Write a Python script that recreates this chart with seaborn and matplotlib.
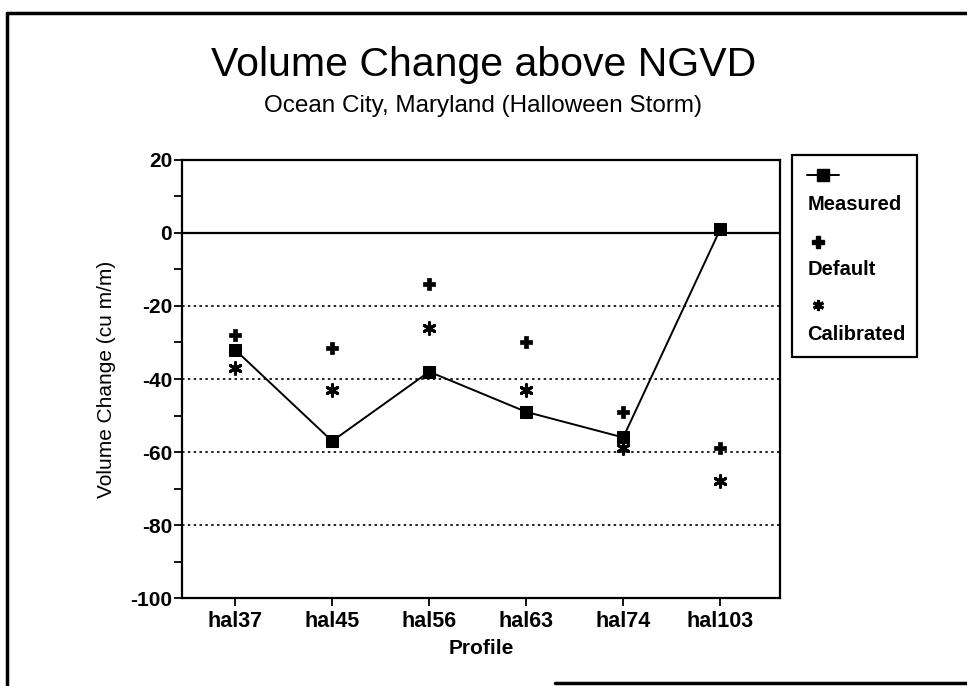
import matplotlib
matplotlib.use("Agg")
import matplotlib.pyplot as plt
from matplotlib.lines import Line2D
from matplotlib.patches import Rectangle
import seaborn as sns
import pandas as pd

# -------------------------------
# Data
# -------------------------------
profiles = ["hal37", "hal45", "hal56", "hal63", "hal74", "hal103"]
measured = [-32, -57, -38, -49, -56, 1]
default = [-28, -31.5, -14, -30, -49, -59]
calibrated = [-37, -43, -26, -43, -59, -68]
grid_levels = [-20, -40, -60, -80]

df = pd.DataFrame({"Profile": profiles,
                   "Measured": measured,
                   "Default": default,
                   "Calibrated": calibrated})

sns.set_theme(style="white")
plt.rcParams["font.family"] = ["Liberation Sans", "DejaVu Sans"]
plt.rcParams["axes.unicode_minus"] = False
plt.rcParams["text.color"] = "black"
plt.rcParams["axes.labelcolor"] = "black"
plt.rcParams["xtick.color"] = "black"
plt.rcParams["ytick.color"] = "black"

fig = plt.figure(figsize=(9.67, 6.86), dpi=100)
ax = fig.add_axes([0.188, 0.128, 0.619, 0.639])

# reference lines
for g in grid_levels:
    ax.axhline(g, color="black", lw=1.2, ls=(0, (1.5, 2)), zorder=1)
ax.axhline(0, color="black", lw=1.6, zorder=1)

# series
sns.lineplot(data=df, x="Profile", y="Measured", ax=ax, color="black",
             lw=1.4, marker="s", markersize=9, markeredgecolor="black",
             sort=False, zorder=3)
sns.scatterplot(data=df, x="Profile", y="Default", ax=ax, color="black",
                marker="P", s=75, edgecolor="black", linewidth=0.5, zorder=3)
sns.scatterplot(data=df, x="Profile", y="Calibrated", ax=ax, color="black",
                marker=(6, 2, 0), s=70, edgecolor="black", linewidth=2.2,
                zorder=3)

ax.set_xlim(-0.55, 5.62)
ax.set_ylim(-100, 20)
ax.set_yticks(range(-100, 21, 20))
ax.set_yticks(range(-90, 20, 20), minor=True)
ax.tick_params(axis="y", which="both", direction="out", length=6, width=1.3,
               labelsize=15, pad=1, left=True)
ax.tick_params(axis="x", direction="out", length=6, width=1.3,
               labelsize=15.5, pad=3, bottom=True)
for lab in ax.get_xticklabels() + ax.get_yticklabels():
    lab.set_fontweight("bold")

for s in ax.spines.values():
    s.set_visible(True)
    s.set_color("black")
    s.set_linewidth(1.6)

ax.set_xlabel("Profile", fontsize=15, fontweight="bold", labelpad=5)
ax.set_ylabel("Volume Change (cu m/m)", fontsize=15, labelpad=10)

# titles
fig.text(0.5, 0.905, "Volume Change above NGVD", ha="center", va="center",
         fontsize=29.5)
fig.text(0.5, 0.845, "Ocean City, Maryland (Halloween Storm)", ha="center",
         va="center", fontsize=17.5)

# legend box (marker above label, as in the original)
fig.patches.append(Rectangle((0.819, 0.480), 0.129, 0.294,
                             transform=fig.transFigure, fill=False,
                             edgecolor="black", lw=1.6))
fig.lines.append(Line2D([0.835, 0.868], [0.745, 0.745],
                        transform=fig.transFigure, color="black", lw=1.4))
fig.lines.append(Line2D([0.8515], [0.745], transform=fig.transFigure,
                        color="black", marker="s", markersize=9, ls="none"))
fig.lines.append(Line2D([0.846], [0.647], transform=fig.transFigure,
                        color="black", marker="P", markersize=8, ls="none"))
fig.lines.append(Line2D([0.846], [0.555], transform=fig.transFigure,
                        color="black", marker=(6, 2, 0), markersize=8,
                        markeredgewidth=2.2, ls="none"))
for ytxt, label in zip([0.702, 0.607, 0.512],
                       ["Measured", "Default", "Calibrated"]):
    fig.text(0.835, ytxt, label, ha="left", va="center", fontsize=14.5,
             fontweight="bold")

# outer frame of the scanned page
fig.lines.append(Line2D([0.007, 1.0], [0.981, 0.981],
                        transform=fig.transFigure, color="black", lw=2.5))
fig.lines.append(Line2D([0.007, 0.007], [0.981, 0.0],
                        transform=fig.transFigure, color="black", lw=2.5))
fig.lines.append(Line2D([0.574, 1.0], [0.005, 0.005],
                        transform=fig.transFigure, color="black", lw=2.5))

fig.savefig("out.png", dpi=100, facecolor="white")
